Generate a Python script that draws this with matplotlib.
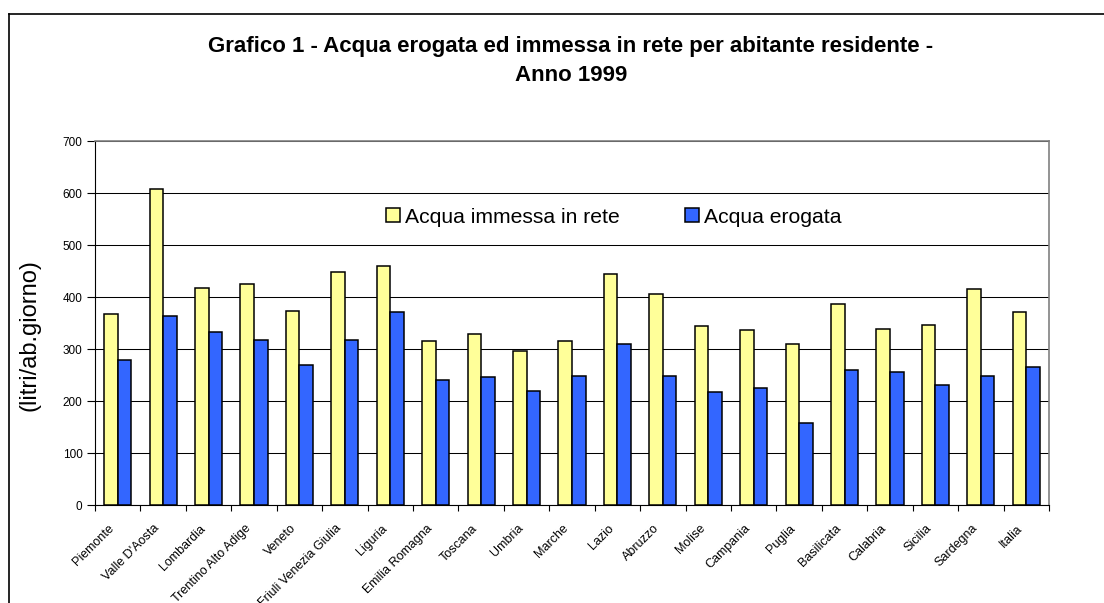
"""Grafico 1 - acqua erogata ed immessa in rete per abitante residente, anno 1999."""

import matplotlib.pyplot as plt
import numpy as np
from matplotlib.lines import Line2D
from matplotlib.patches import Rectangle
from matplotlib.transforms import ScaledTranslation

regioni = [
    "Piemonte", "Valle D'Aosta", "Lombardia", "Trentino Alto Adige", "Veneto",
    "Friuli Venezia Giulia", "Liguria", "Emilia Romagna", "Toscana", "Umbria",
    "Marche", "Lazio", "Abruzzo", "Molise", "Campania", "Puglia", "Basilicata",
    "Calabria", "Sicilia", "Sardegna", "Italia",
]
immessa = [367, 607, 417, 425, 373, 449, 459, 315, 328, 297,
           316, 444, 405, 344, 337, 310, 387, 339, 346, 415, 372]
erogata = [279, 364, 332, 317, 269, 317, 371, 240, 246, 220,
           249, 310, 248, 217, 225, 157, 260, 255, 231, 248, 266]
y_ticks = [0, 100, 200, 300, 400, 500, 600, 700]

plt.rcParams["font.family"] = ["Liberation Sans", "DejaVu Sans"]

W, H = 1104, 603
fig = plt.figure(figsize=(W / 100, H / 100), dpi=100)
ax = fig.add_axes([95 / W, 1 - 505 / H, (1049 - 95) / W, (505 - 141) / H])

x = np.arange(len(regioni))
w = 0.3
ax.bar(x - w / 2, immessa, w, color="#FFFF99", edgecolor="black", linewidth=1.1,
       label="Acqua immessa in rete", zorder=3)
ax.bar(x + w / 2, erogata, w, color="#3366FF", edgecolor="black", linewidth=1.1,
       label="Acqua erogata", zorder=3)

ax.set_xlim(-0.5, len(regioni) - 0.5)
ax.set_ylim(0, 700)
ax.set_yticks(y_ticks)
ax.yaxis.grid(True, color="black", linewidth=0.75, zorder=0)

# category boundaries carry the ticks, centres carry the labels
ax.set_xticks(np.arange(len(regioni) + 1) - 0.5)
ax.set_xticklabels([])
ax.set_xticks(x, minor=True)
ax.set_xticklabels(regioni, minor=True, rotation=45, ha="right", va="top",
                   rotation_mode="anchor", fontsize=9)
ax.tick_params(axis="x", which="minor", length=0, pad=12.5)
ax.tick_params(axis="x", which="major", length=4, width=0.8, direction="out")
ax.tick_params(axis="y", length=6, width=0.8, labelsize=8.5, pad=3)
shift = ScaledTranslation(-0.095, 0, fig.dpi_scale_trans)
for lab in ax.get_xticklabels(minor=True):
    lab.set_transform(lab.get_transform() + shift)

for side in ("top", "right"):
    ax.spines[side].set_color("#808080")
    ax.spines[side].set_linewidth(1.2)
for side in ("left", "bottom"):
    ax.spines[side].set_color("black")
    ax.spines[side].set_linewidth(0.8)

ax.set_ylabel("(litri/ab.giorno)", fontsize=17)
ax.yaxis.set_label_coords((41 - 95) / (1049 - 95), 0.467)

# white legend area hides the gridlines behind it
ax.add_patch(Rectangle((0.2767, 0.668), 0.543, 0.239, transform=ax.transAxes,
                       facecolor="white", edgecolor="none", zorder=1))
ax.legend(loc="center left", bbox_to_anchor=(0.305, 0.791), ncol=2, frameon=False,
          fontsize=15.2, handlelength=0.65, handleheight=0.65, handletextpad=0.25,
          columnspacing=3.1, borderpad=0, borderaxespad=0)

fig.text(0.517, 1 - 52 / H, "Grafico 1 - Acqua erogata ed immessa in rete per abitante residente -",
         ha="center", va="baseline", fontsize=16, fontweight="bold")
fig.text(0.517, 1 - 81 / H, "Anno 1999", ha="center", va="baseline",
         fontsize=16, fontweight="bold")

# outer chart border (only left and top edges are visible in the crop)
fig.add_artist(Line2D([8.5 / W, 8.5 / W], [0, 1 - 14 / H], color="black", linewidth=1.2))
fig.add_artist(Line2D([8.5 / W, 1], [1 - 14 / H, 1 - 14 / H], color="black", linewidth=1.2))

fig.savefig("out.png", dpi=100)
